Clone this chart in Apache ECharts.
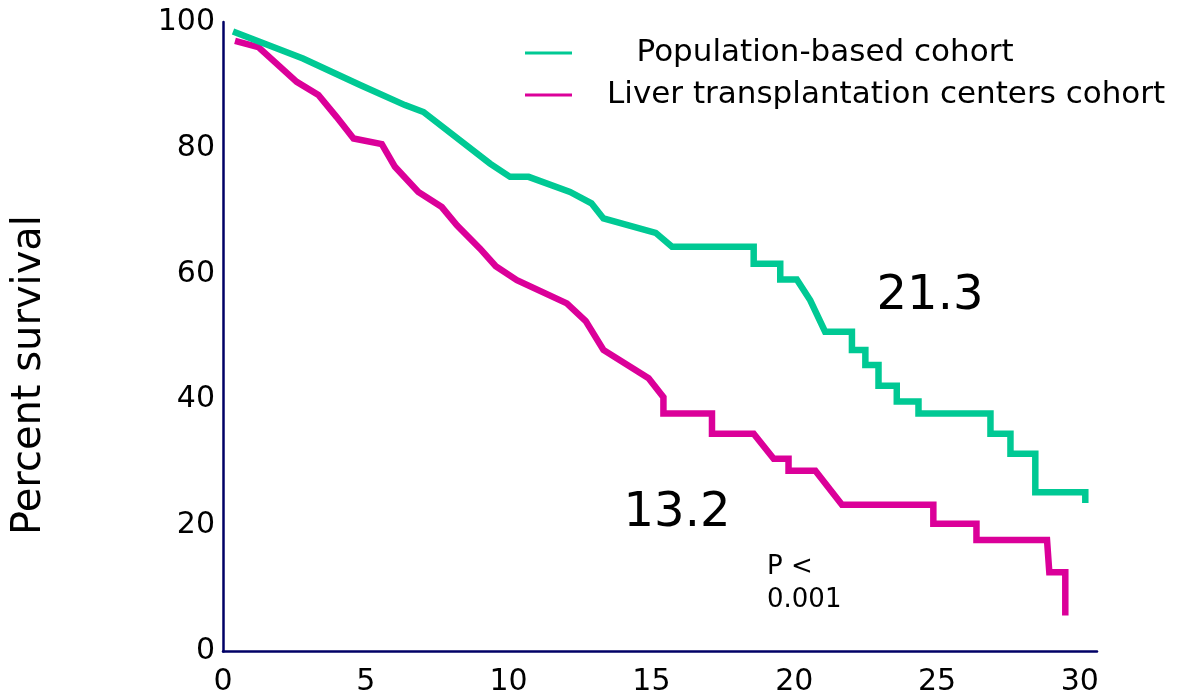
<!DOCTYPE html>
<html>
<head>
<meta charset="utf-8">
<script src="https://cdn.jsdelivr.net/npm/echarts@6/dist/echarts.min.js"></script>
<style>
  html, body { margin: 0; padding: 0; background: #fff; }
  #chart { width: 1186px; height: 699px; }
</style>
</head>
<body>
<div id="chart"></div>
<script>
// population-based cohort (years, % survival)
const popTime = [0.35, 2.8, 4.8, 6.37, 7.02, 9.35, 10.05, 10.7, 12.15, 12.9, 13.32, 15.15, 15.72,
  18.58, 18.58, 19.51, 19.51, 20.09, 20.56, 21.08, 22.02, 22.02, 22.49, 22.49, 22.95, 22.95,
  23.59, 23.59, 24.35, 24.35, 26.87, 26.87, 27.57, 27.57, 28.44, 28.44, 30.19, 30.19];
const popSurv = [98.5, 94.2, 90.0, 86.8, 85.7, 77.5, 75.4, 75.4, 73.0, 71.2, 68.8, 66.5, 64.3,
  64.3, 61.6, 61.6, 59.1, 59.1, 55.8, 50.8, 50.8, 47.9, 47.9, 45.5, 45.5, 42.2,
  42.2, 39.7, 39.7, 37.8, 37.8, 34.6, 34.6, 31.4, 31.4, 25.3, 25.3, 23.6];

// liver transplantation centers cohort
const ltcTime = [0.42, 1.24, 2.58, 3.34, 3.98, 4.57, 5.56, 6.02, 6.84, 7.66, 8.19, 9.0, 9.55,
  10.29, 12.04, 12.7, 13.32, 14.9, 15.42, 15.42, 17.12, 17.12, 18.58, 19.28, 19.8, 19.8,
  20.74, 21.67, 24.87, 24.87, 26.38, 26.38, 28.85, 28.93, 29.49, 29.49];
const ltcSurv = [97.0, 96.0, 90.5, 88.4, 84.9, 81.5, 80.6, 77.0, 73.0, 70.6, 67.7, 64.0, 61.2,
  59.0, 55.3, 52.5, 47.9, 43.4, 40.4, 37.8, 37.8, 34.6, 34.6, 30.6, 30.6, 28.7,
  28.7, 23.3, 23.3, 20.3, 20.3, 17.7, 17.7, 12.6, 12.6, 5.7];

const seriesNames = ['Population-based cohort', 'Liver transplantation centers cohort'];
const seriesColors = ['#00c994', '#db0099'];
const xTicks = [0, 5, 10, 15, 20, 25, 30];
const yTicks = [0, 20, 40, 60, 80, 100];

const font = "'DejaVu Sans', Verdana, sans-serif";
const axisColor = '#000066';

const zip = (xs, ys) => xs.map((x, i) => [x, ys[i]]);

const chart = echarts.init(document.getElementById('chart'));

chart.setOption({
  animation: false,
  backgroundColor: '#fff',
  grid: { left: 223, right: 89, top: 22, bottom: 47.5, containLabel: false },
  legend: {
    orient: 'vertical',
    left: 520,
    top: 30,
    icon: 'rect',
    itemWidth: 47,
    itemHeight: 3,
    itemGap: 6,
    selectedMode: false,
    data: seriesNames,
    formatter: name => (name === seriesNames[0] ? '   ' + name : name),
    textStyle: { fontFamily: font, fontSize: 31, lineHeight: 36, color: '#000', padding: [0, 0, 0, 30] }
  },
  xAxis: {
    type: 'value',
    min: 0,
    max: 30.6,
    interval: 5,
    splitLine: { show: false },
    axisTick: { show: false },
    axisLine: { show: true, onZero: false, lineStyle: { color: axisColor, width: 2.5 } },
    axisLabel: {
      margin: 16,
      fontFamily: font,
      fontSize: 30,
      color: '#000',
      formatter: v => (xTicks.includes(v) ? String(v) : '')
    }
  },
  yAxis: {
    type: 'value',
    min: 0,
    max: 100,
    interval: 20,
    splitLine: { show: false },
    axisTick: { show: false },
    axisLine: { show: true, onZero: false, lineStyle: { color: axisColor, width: 2.5 } },
    axisLabel: {
      margin: 8,
      fontFamily: font,
      fontSize: 30,
      color: '#000',
      formatter: v => (yTicks.includes(v) ? String(v) : '')
    }
  },
  graphic: [
    {
      type: 'text', x: 30, y: 375, rotation: Math.PI / 2,
      style: { text: 'Percent survival', font: '40px ' + font, fill: '#000', align: 'center', verticalAlign: 'middle' }
    },
    {
      type: 'text', x: 930, y: 297,
      style: { text: '21.3', font: '48px ' + font, fill: '#000', align: 'center', verticalAlign: 'middle' }
    },
    {
      type: 'text', x: 677, y: 514,
      style: { text: '13.2', font: '48px ' + font, fill: '#000', align: 'center', verticalAlign: 'middle' }
    },
    {
      type: 'text', x: 767, y: 584,
      style: { text: 'P <\n0.001', font: '26px ' + font, lineHeight: 33, fill: '#000', align: 'left', verticalAlign: 'middle' }
    }
  ],
  series: [
    {
      name: seriesNames[0],
      type: 'line',
      data: zip(popTime, popSurv),
      showSymbol: false,
      symbol: 'none',
      color: seriesColors[0],
      lineStyle: { width: 6.5, color: seriesColors[0], cap: 'butt', join: 'miter' },
      z: 3
    },
    {
      name: seriesNames[1],
      type: 'line',
      data: zip(ltcTime, ltcSurv),
      showSymbol: false,
      symbol: 'none',
      color: seriesColors[1],
      lineStyle: { width: 6.5, color: seriesColors[1], cap: 'butt', join: 'miter' },
      z: 2
    }
  ]
});
</script>
</body>
</html>
